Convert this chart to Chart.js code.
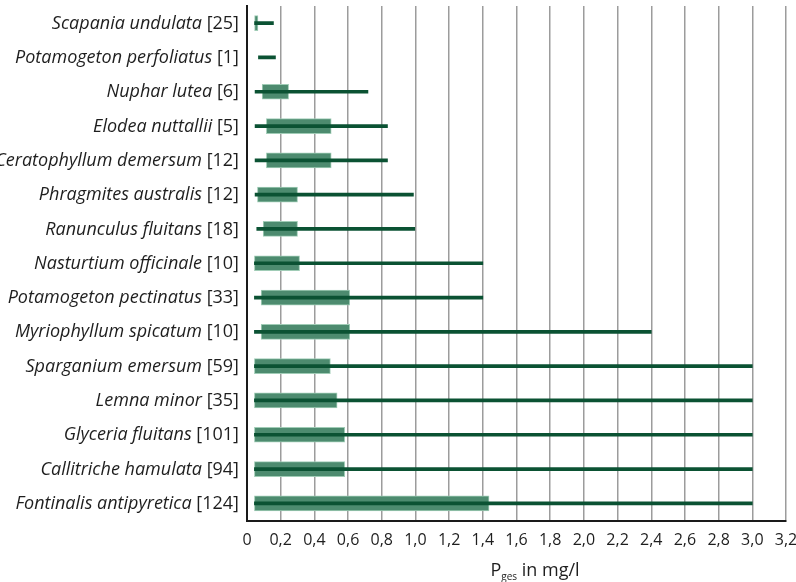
<!DOCTYPE html>
<html>
<head>
<meta charset="utf-8">
<title>P-Gehalt Wasserpflanzen</title>
<script src="https://cdn.jsdelivr.net/npm/chart.js@4"></script>
<style>
  html, body { margin: 0; padding: 0; background: #fff; }
  #wrap { position: relative; width: 796px; height: 582px; }
</style>
</head>
<body>
<div id="wrap"><canvas id="chart" width="796" height="582"></canvas></div>
<script>
// P_ges ranges per species: box = main range, line = min..max
const species = [
  "Scapania undulata", "Potamogeton perfoliatus", "Nuphar lutea", "Elodea nuttallii",
  "Ceratophyllum demersum", "Phragmites australis", "Ranunculus fluitans",
  "Nasturtium officinale", "Potamogeton pectinatus", "Myriophyllum spicatum",
  "Sparganium emersum", "Lemna minor", "Glyceria fluitans", "Callitriche hamulata",
  "Fontinalis antipyretica"
];
const counts = [25, 1, 6, 5, 12, 12, 18, 10, 33, 10, 59, 35, 101, 94, 124];

const boxLow  = [0.045, null, 0.09, 0.115, 0.115, 0.062, 0.096, 0.044, 0.084, 0.084, 0.044, 0.044, 0.044, 0.044, 0.044];
const boxHigh = [0.065, null, 0.247, 0.50, 0.50, 0.30, 0.30, 0.312, 0.61, 0.61, 0.495, 0.535, 0.58, 0.58, 1.437];
const minVal  = [0.045, 0.068, 0.048, 0.048, 0.048, 0.048, 0.058, 0.044, 0.044, 0.044, 0.044, 0.044, 0.044, 0.044, 0.044];
const maxVal  = [0.157, 0.169, 0.718, 0.834, 0.834, 0.988, 0.996, 1.4, 1.4, 2.4, 3.0, 3.0, 3.0, 3.0, 3.0];

const xMin = 0, xMax = 3.2, xStep = 0.2;

const FONT = "'Open Sans', 'DejaVu Sans', sans-serif";
const TEXT = "#1e1e1e";

const boxData = boxLow.map((lo, i) => (lo == null ? null : [lo, boxHigh[i]]));
const lineData = minVal.map((lo, i) => [lo, maxVal[i]]);

// species name in italics, sample count upright
const speciesLabels = {
  id: "speciesLabels",
  afterDraw(chart) {
    const { ctx, scales } = chart;
    const yScale = scales.y;
    const right = 239;
    ctx.save();
    ctx.fillStyle = TEXT;
    ctx.textBaseline = "middle";
    ctx.textAlign = "left";
    species.forEach((name, i) => {
      const y = yScale.getPixelForValue(i) + 0.5;
      const tail = " [" + counts[i] + "]";
      ctx.font = "18px " + FONT;
      const wTail = ctx.measureText(tail).width;
      ctx.fillText(tail, right - wTail, y);
      ctx.font = "italic 18px " + FONT;
      const wName = ctx.measureText(name).width;
      ctx.fillText(name, right - wTail - wName, y);
    });
    ctx.restore();
  }
};

// axis title with subscript
const axisTitle = {
  id: "axisTitle",
  afterDraw(chart) {
    const { ctx } = chart;
    const cx = 535, base = 576;
    const parts = [
      { t: "P", f: "18px " + FONT, dy: 0 },
      { t: "ges", f: "10px " + FONT, dy: 4 },
      { t: " in mg/l", f: "18px " + FONT, dy: 0 }
    ];
    ctx.save();
    ctx.fillStyle = TEXT;
    ctx.textBaseline = "alphabetic";
    ctx.textAlign = "left";
    let total = 0;
    parts.forEach(p => { ctx.font = p.f; p.w = ctx.measureText(p.t).width; total += p.w; });
    let x = cx - total / 2;
    parts.forEach(p => { ctx.font = p.f; ctx.fillText(p.t, x, base + p.dy); x += p.w; });
    ctx.restore();
  }
};

new Chart(document.getElementById("chart"), {
  type: "bar",
  data: {
    labels: species,
    datasets: [
      {
        label: "Min–Max",
        data: lineData,
        backgroundColor: "#0b5233",
        borderWidth: 0,
        barThickness: 3,
        order: 0
      },
      {
        label: "Bereich",
        data: boxData,
        backgroundColor: "rgb(77,139,111)",
        borderColor: "rgb(160,204,182)",
        borderWidth: 1,
        borderSkipped: false,
        barThickness: 15,
        order: 1
      }
    ]
  },
  options: {
    indexAxis: "y",
    responsive: false,
    animation: false,
    devicePixelRatio: 1,
    layout: { padding: { top: 6, left: 0, right: 0, bottom: 0 } },
    datasets: { bar: { grouped: false } },
    plugins: {
      legend: { display: false },
      tooltip: { enabled: false }
    },
    scales: {
      x: {
        type: "linear",
        min: xMin,
        max: xMax,
        ticks: {
          stepSize: xStep,
          padding: 10,
          color: TEXT,
          font: { family: FONT, size: 16 },
          maxRotation: 0,
          autoSkip: false,
          callback: (v) => (Math.abs(v) < 1e-9 ? "0" : v.toFixed(1).replace(".", ","))
        },
        grid: {
          drawTicks: false,
          tickLength: 0,
          color: "#9c9c9c",
          lineWidth: 1.5
        },
        border: { display: true, color: "#1a1a1a", width: 2 },
        afterFit: (scale) => {
          scale.height = 61.5;
          scale.paddingRight = 10;
        }
      },
      y: {
        type: "category",
        ticks: { display: false },
        grid: { display: false, drawTicks: false, tickLength: 0 },
        border: { display: true, color: "#1a1a1a", width: 2 },
        afterFit: (scale) => { scale.width = 247; }
      }
    }
  },
  plugins: [speciesLabels, axisTitle]
});
</script>
</body>
</html>
